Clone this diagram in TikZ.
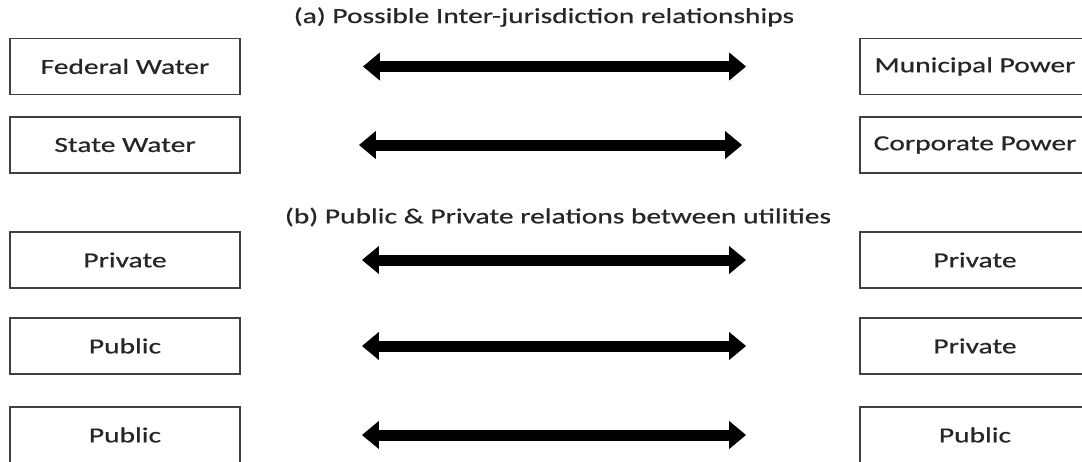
\documentclass[tikz,border=0pt]{standalone}
\usepackage{fontspec}
\setmainfont{Carlito}[FakeStretch=1.37,FakeBold=0.6]
\usetikzlibrary{arrows.meta}
\begin{document}
\begin{tikzpicture}[x=1pt,y=-1pt,
  unit/.style={draw=black!75,line width=1.8pt,minimum width=230pt,minimum height=56pt,
    inner sep=0pt,font=\fontsize{21.5}{26}\selectfont,text=black!85},
  heading/.style={font=\fontsize{21.5}{26}\selectfont,text=black!85},
  link/.style={line width=11pt,{Triangle[length=17pt,width=27pt]}-{Triangle[length=17pt,width=27pt]}}]
\useasboundingbox (0,0) rectangle (1082,461);
\begin{scope}
\clip (0,0) rectangle (1082,461);
% (a) inter-jurisdiction pairs
\node[heading] (ta) at (544,17) {(a) Possible Inter-jurisdiction relationships};
\node[unit] (fw) at (125,66.5) {Federal Water};
\node[unit] (sw) at (125,145) {State Water};
\node[unit] (mp) at (975,66.5) {Municipal Power};
\node[unit] (cp) at (975,145) {Corporate Power};
\draw[link,shorten <=122pt,shorten >=113pt] (fw.east) -- (mp.west);
\draw[link,shorten <=118pt,shorten >=117pt] (sw.east) -- (cp.west);
% (b) public and private pairs
\node[heading] (tb) at (558,217) {(b) Public \& Private relations between utilities};
\node[unit] (l1) at (125,260) {Private};
\node[unit] (l2) at (125,346) {Public};
\node[unit] (l3) at (125,435) {Public};
\node[unit] (r1) at (975,260) {Private};
\node[unit] (r2) at (975,346) {Private};
\node[unit] (r3) at (975,435) {Public};
\draw[link,shorten <=121pt,shorten >=113pt] (l1.east) -- (r1.west);
\draw[link,shorten <=121pt,shorten >=113pt] (l2.east) -- (r2.west);
\draw[link,shorten <=121pt,shorten >=113pt] (l3.east) -- (r3.west);
\end{scope}
\end{tikzpicture}
\end{document}
